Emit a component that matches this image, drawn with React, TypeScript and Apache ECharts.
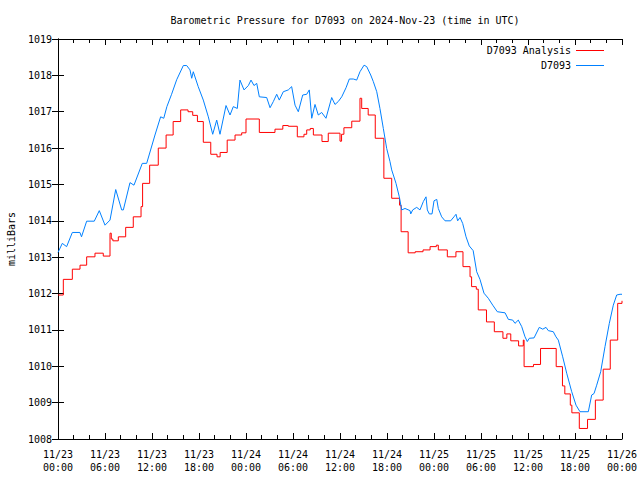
import React, { useEffect, useRef } from "react";
import * as echarts from "echarts";

// Hours since 2024-11-23 00:00 UTC
const xTickLabels = [
  "11/23\n00:00", "11/23\n06:00", "11/23\n12:00", "11/23\n18:00",
  "11/24\n00:00", "11/24\n06:00", "11/24\n12:00", "11/24\n18:00",
  "11/25\n00:00", "11/25\n06:00", "11/25\n12:00", "11/25\n18:00",
  "11/26\n00:00",
];

// D7093 Analysis (step function): time of change (h) and new value (mb)
const analysisHours = [
  0, 0.68, 1.83, 2.81, 3.66, 4.72, 5.78, 6.64, 6.8, 7.0, 7.7, 8.64, 9.61, 10.6, 10.8,
  11.7, 12.8, 13.8, 14.7, 15.66, 16.6, 17.2, 17.8, 18.55, 19.5, 20.3, 20.7, 21.6, 22.6,
  23.45, 24.0, 25.7, 27.7, 28.7, 29.4, 30.55, 31.4, 31.75, 32.2, 32.6, 33.7, 34.5,
  36.0, 36.2, 36.5, 37.5, 38.55, 38.77, 39.6, 40.5, 41.6, 42.6, 43.6, 43.8, 44.7,
  45.6, 46.6, 47.5, 48.3, 48.55, 49.7, 50.8, 51.7, 52.6, 52.8, 53.4, 53.65, 54.7,
  55.7, 56.8, 57.3, 57.8, 58.8, 59.4, 59.5, 60.7, 61.6, 63.6, 64.4, 64.7, 65.4, 65.6,
  66.55, 67.6, 68.6, 69.6, 70.5, 71.45, 72,
];
const analysisValues = [
  1011.96, 1012.39, 1012.67, 1012.78, 1013.01, 1013.11, 1013.03, 1013.66, 1013.5, 1013.45,
  1013.56, 1013.82, 1014.11, 1014.39, 1015.03, 1015.53, 1016.0, 1016.36, 1016.73, 1017.05,
  1017.0, 1016.9, 1016.73, 1016.16, 1015.83, 1015.76, 1015.88, 1016.22, 1016.36, 1016.42,
  1016.8, 1016.43, 1016.52, 1016.62, 1016.6, 1016.31, 1016.38, 1016.5, 1016.54, 1016.36,
  1016.18, 1016.41, 1016.19, 1016.38, 1016.56, 1016.74, 1017.37, 1017.09, 1016.91, 1016.27,
  1015.17, 1014.62, 1014.43, 1013.7, 1013.12, 1013.15, 1013.2, 1013.29, 1013.33, 1013.2,
  1013.01, 1013.15, 1012.74, 1012.46, 1012.19, 1012.12, 1011.55, 1011.22, 1010.95, 1010.77,
  1010.89, 1010.7, 1010.56, 1010.72, 1009.99, 1010.05, 1010.49, 1009.99, 1009.46, 1009.24,
  1008.93, 1008.72, 1008.29, 1008.54, 1009.07, 1009.92, 1010.72, 1011.73, 1011.8,
];

// D7093 observations
const obsHours = [
  0, 0.55, 1.1, 1.83, 2.8, 3.0, 3.66, 4.63, 5.27, 6.0, 6.64, 7.37, 8.13, 8.34, 9.19, 9.7,
  10.76, 11.32, 12.38, 13.1, 13.5, 13.9, 14.5, 15.15, 16.0, 16.43, 16.85, 17.07, 17.27,
  17.9, 18.55, 19.19, 19.75, 20.26, 20.68, 21.45, 21.96, 22.38, 22.89, 23.23, 23.75, 24.3,
  24.64, 25.02, 25.37, 25.7, 26.64, 27.07, 27.49, 27.92, 28.25, 28.76, 29.4, 29.83, 30.26,
  30.68, 31.24, 31.75, 32.08, 32.39, 32.81, 33.23, 33.66, 34.21, 34.94, 35.36, 35.78,
  36.22, 36.77, 37.19, 37.7, 38.13, 38.55, 39.07, 39.41, 39.92, 40.25, 40.69, 41.1, 41.53,
  41.96, 42.38, 42.6, 43.15, 43.57, 43.88, 44.3, 44.94, 45.03, 45.28, 45.79, 46.21, 46.64,
  46.98, 47.15, 47.4, 47.75, 48.0, 48.35, 48.55, 48.98, 49.41, 50.13, 50.55, 50.81, 51.02,
  51.32, 51.66, 52.09, 52.5, 53.0, 53.45, 53.87, 54.38, 54.93, 55.5, 56.08, 57.07, 57.49,
  58.05, 58.34, 58.76, 59.2, 59.62, 59.91, 60.17, 60.77, 61.44, 61.88, 62.3, 62.59, 63.23,
  63.57, 63.87, 64.43, 64.94, 65.58, 66.13, 66.64, 67.7, 68.13, 68.43, 68.77, 69.28,
  69.83, 70.38, 70.89, 71.32, 71.75, 72,
];
const obsValues = [
  1013.13, 1013.38, 1013.29, 1013.68, 1013.68, 1013.56, 1013.99, 1013.99, 1014.28, 1013.88,
  1014.02, 1014.86, 1014.3, 1014.3, 1015.05, 1014.98, 1015.58, 1015.58, 1016.36, 1016.86,
  1016.82, 1017.14, 1017.48, 1017.88, 1018.27, 1018.27, 1018.15, 1017.92, 1018.1, 1017.69,
  1017.32, 1016.86, 1016.38, 1016.77, 1016.38, 1017.17, 1016.91, 1017.14, 1017.09, 1017.87,
  1017.6, 1017.72, 1017.87, 1017.72, 1017.78, 1017.41, 1017.39, 1017.11, 1017.28, 1017.48,
  1017.32, 1017.55, 1017.6, 1017.69, 1017.18, 1017.0, 1017.46, 1017.48, 1017.6, 1016.82,
  1017.2, 1016.91, 1016.98, 1016.82, 1017.39, 1017.2, 1017.28, 1017.41, 1017.66, 1017.9,
  1017.9, 1017.87, 1018.1, 1018.28, 1018.24, 1018.01, 1017.83, 1017.55, 1017.09, 1016.54,
  1015.99, 1015.63, 1015.4, 1015.03, 1014.66, 1014.3, 1014.34, 1014.28, 1014.19, 1014.3,
  1014.37, 1014.3, 1014.53, 1014.66, 1014.3, 1014.19, 1014.19, 1014.55, 1014.59, 1014.34,
  1014.11, 1014.0, 1014.0, 1014.11, 1014.18, 1014.0, 1014.09, 1013.93, 1013.56, 1013.31,
  1013.18, 1012.6, 1012.39, 1012.01, 1011.87, 1011.68, 1011.5, 1011.47, 1011.29, 1011.27,
  1011.18, 1011.27, 1011.09, 1010.81, 1010.68, 1010.77, 1010.78, 1011.07, 1011.02, 1011.07,
  1010.98, 1010.95, 1010.81, 1010.72, 1010.26, 1009.81, 1009.3, 1008.93, 1008.75, 1008.75,
  1009.21, 1009.25, 1009.48, 1009.85, 1010.54, 1011.18, 1011.68, 1011.96, 1011.98, 1011.98,
];

const FONT = "DejaVu Sans Mono";

export default function App() {
  const ref = useRef<HTMLDivElement>(null);
  useEffect(() => {
    if (!ref.current) return;
    const chart = echarts.init(ref.current, undefined, { renderer: "svg" });
    const tickStyle = { inside: true, length: 6, lineStyle: { color: "#000", width: 1 } };
    const minorStyle = { show: true, splitNumber: 3, length: 4, lineStyle: { color: "#000", width: 1 } };
    const line = { show: true, lineStyle: { color: "#000", width: 1 } };
    chart.setOption({
      animation: false,
      backgroundColor: "#fff",
      textStyle: { fontFamily: FONT },
      title: {
        text: "Barometric Pressure for D7093 on 2024-Nov-23 (time in UTC)",
        left: 340,
        textAlign: "center",
        top: 10,
        textStyle: { fontFamily: FONT, fontSize: 10, fontWeight: "normal", color: "#000" },
      },
      legend: {
        orient: "vertical",
        right: 31,
        top: 40,
        align: "right",
        itemWidth: 28,
        itemHeight: 1,
        itemGap: 4,
        icon: "rect",
        textStyle: { fontFamily: FONT, fontSize: 10, color: "#000", lineHeight: 11 },
        data: [
          { name: "D7093 Analysis", itemStyle: { color: "#ff0000" } },
          { name: "D7093", itemStyle: { color: "#0080ff" } },
        ],
      },
      grid: { left: 58, right: 18, top: 39, bottom: 41, outerBoundsMode: "none" },
      xAxis: [
        {
          type: "value",
          min: 0,
          max: 72,
          interval: 6,
          axisLine: line,
          axisTick: tickStyle,
          minorTick: minorStyle,
          splitLine: { show: false },
          axisLabel: {
            fontFamily: FONT,
            fontSize: 10,
            color: "#000",
            lineHeight: 13,
            margin: 9,
            formatter: (v: number) => xTickLabels[Math.round(v / 6)] ?? "",
          },
        },
        {
          type: "value",
          position: "top",
          min: 0,
          max: 72,
          interval: 6,
          axisLine: line,
          axisTick: tickStyle,
          minorTick: minorStyle,
          splitLine: { show: false },
          axisLabel: { show: false },
        },
      ],
      yAxis: [
        {
          type: "value",
          min: 1008,
          max: 1019,
          interval: 1,
          name: "milliBars",
          nameLocation: "middle",
          nameGap: 42,
          nameRotate: 90,
          nameTextStyle: { fontFamily: FONT, fontSize: 10, color: "#000" },
          axisLine: line,
          axisTick: tickStyle,
          splitLine: { show: false },
          axisLabel: {
            fontFamily: FONT,
            fontSize: 10,
            color: "#000",
            margin: 6,
            formatter: (v: number) => String(v),
          },
        },
        {
          type: "value",
          position: "right",
          min: 1008,
          max: 1019,
          interval: 1,
          axisLine: line,
          axisTick: tickStyle,
          splitLine: { show: false },
          axisLabel: { show: false },
        },
      ],
      series: [
        {
          name: "D7093 Analysis",
          type: "line",
          step: "end",
          symbol: "none",
          lineStyle: { color: "#ff0000", width: 1 },
          itemStyle: { color: "#ff0000" },
          data: analysisHours.map((h, i) => [h, analysisValues[i]]),
        },
        {
          name: "D7093",
          type: "line",
          symbol: "none",
          lineStyle: { color: "#0080ff", width: 1 },
          itemStyle: { color: "#0080ff" },
          data: obsHours.map((h, i) => [h, obsValues[i]]),
        },
      ],
    });
    return () => chart.dispose();
  }, []);
  return (
    <div
      ref={ref}
      style={{ position: "fixed", left: 0, top: 0, width: 640, height: 480, background: "#fff" }}
    />
  );
}
